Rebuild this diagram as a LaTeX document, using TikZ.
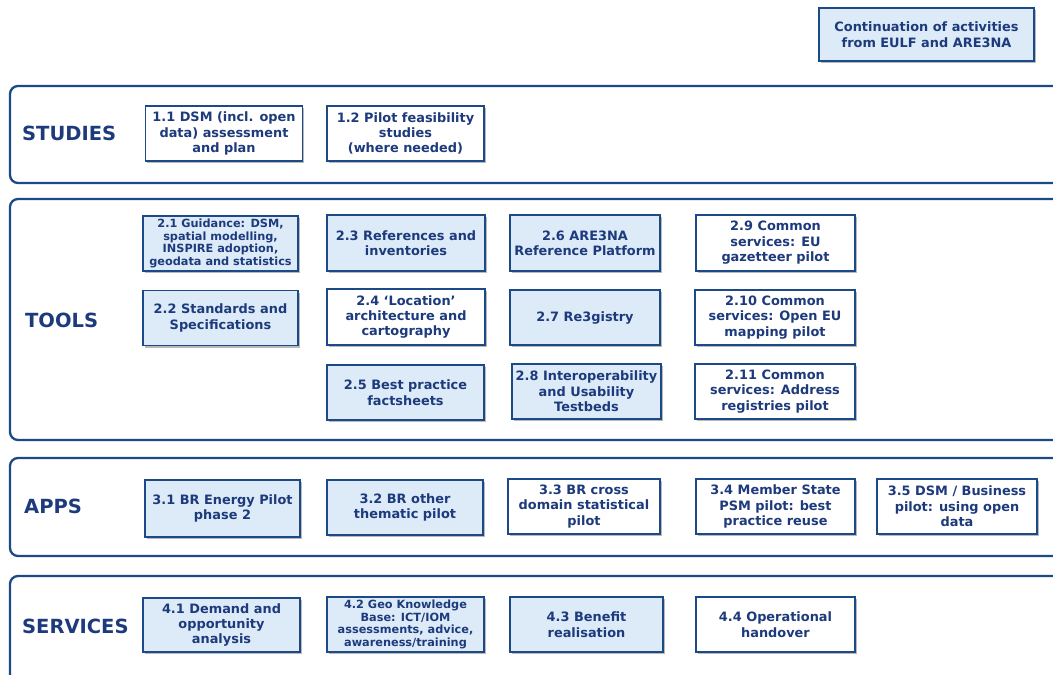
\documentclass[tikz,border=0pt]{standalone}
\usepackage{fontspec}
\setmainfont{DejaVu Sans}
\usetikzlibrary{shadows}
\definecolor{navy}{HTML}{1D3A7C}
\definecolor{edge}{HTML}{1C4A88}
\definecolor{pale}{HTML}{DDEBF8}
\tikzset{
  band/.style={draw=edge, line width=2.3pt, rounded corners=8pt},
  lane/.style={anchor=west, text=navy, font=\bfseries\fontsize{19.5}{21}\selectfont, inner sep=0pt},
  itm/.style={draw=edge, line width=1.8pt, fill=white, text=navy, align=center, inner sep=0pt,
    font=\bfseries\fontsize{12.9}{15.4}\selectfont,
    drop shadow={shadow xshift=1.8pt, shadow yshift=-2.4pt, fill=black!55, opacity=0.5}},
  lit/.style={itm, fill=pale},
  small/.style={font=\bfseries\fontsize{11.3}{12.6}\selectfont},
}
\begin{document}
\begin{tikzpicture}[x=1pt, y=-1pt]
\useasboundingbox (0,0) rectangle (1053,675);
\clip (0,0) rectangle (1053,675);

% swim lanes
\draw[band] (10,86) rectangle (1075,183);
\draw[band] (10,199) rectangle (1075,440);
\draw[band] (10,458) rectangle (1075,556);
\draw[band] (10,576) rectangle (1075,700);

\node[lane] (lstudies) at (22,133) {STUDIES};
\node[lane] (ltools) at (25,320) {TOOLS};
\node[lane] (lapps) at (24,506) {APPS};
\node[lane] (lservices) at (22,626) {SERVICES};

% legend box
\node[lit, minimum width=215pt, minimum height=53pt] (cont) at (926.5,34.5) {Continuation of activities\\from EULF and ARE3NA};

% studies
\node[itm, minimum width=157pt, minimum height=55pt] (s11) at (224,133.5) {1.1 DSM (incl. open\\data) assessment\\and plan};
\node[itm, minimum width=157pt, minimum height=55pt] (s12) at (405.5,133.5) {1.2 Pilot feasibility\\studies\\(where needed)};

% tools
\node[lit, small, minimum width=155pt, minimum height=55pt] (t21) at (220.5,243.5) {2.1 Guidance: DSM,\\spatial modelling,\\INSPIRE  adoption,\\geodata and statistics};
\node[lit, minimum width=155pt, minimum height=55pt] (t22) at (220.5,318) {2.2 Standards and\\Specifications};
\node[lit, minimum width=158pt, minimum height=56pt] (t23) at (406,243) {2.3 References and\\inventories};
\node[itm, minimum width=158pt, minimum height=56pt] (t24) at (406,317) {2.4 `Location'\\architecture  and\\cartography};
\node[lit, minimum width=157pt, minimum height=55pt] (t25) at (405.5,392.5) {2.5 Best practice\\factsheets};
\node[lit, minimum width=150pt, minimum height=56pt] (t26) at (585,243) {2.6 ARE3NA\\Reference Platform};
\node[lit, minimum width=150pt, minimum height=55pt] (t27) at (585,317.5) {2.7 Re3gistry};
\node[lit, minimum width=149pt, minimum height=55pt] (t28) at (586.5,391.5) {2.8 Interoperability\\and Usability\\Testbeds};
\node[itm, minimum width=159pt, minimum height=56pt] (t29) at (775.5,243) {2.9 Common\\services: EU\\gazetteer pilot};
\node[itm, minimum width=160pt, minimum height=55pt] (t210) at (775,317.5) {2.10 Common\\services: Open EU\\mapping pilot};
\node[itm, minimum width=160pt, minimum height=55pt] (t211) at (775,391.5) {2.11 Common\\services: Address\\registries pilot};

% apps
\node[lit, minimum width=155pt, minimum height=57pt] (a31) at (222.5,508.5) {3.1 BR Energy Pilot\\phase 2};
\node[lit, minimum width=156pt, minimum height=55pt] (a32) at (405,507.5) {3.2 BR other\\thematic pilot};
\node[itm, minimum width=152pt, minimum height=55pt] (a33) at (584,506.5) {3.3 BR cross\\domain statistical\\pilot};
\node[itm, minimum width=159pt, minimum height=55pt] (a34) at (775.5,506.5) {3.4 Member State\\PSM pilot: best\\practice  reuse};
\node[itm, minimum width=160pt, minimum height=55pt] (a35) at (957,506.5) {3.5 DSM / Business\\pilot: using open\\data};

% services
\node[lit, minimum width=157pt, minimum height=54pt] (v41) at (221.5,625) {4.1 Demand and\\opportunity\\analysis};
\node[lit, small, minimum width=157pt, minimum height=55pt] (v42) at (405.5,624.5) {4.2 Geo Knowledge\\Base: ICT/IOM\\assessments, advice,\\awareness/training};
\node[lit, minimum width=153pt, minimum height=55pt] (v43) at (586.5,624.5) {4.3 Benefit\\realisation};
\node[itm, minimum width=159pt, minimum height=55pt] (v44) at (775.5,624.5) {4.4 Operational\\handover};
\end{tikzpicture}
\end{document}
